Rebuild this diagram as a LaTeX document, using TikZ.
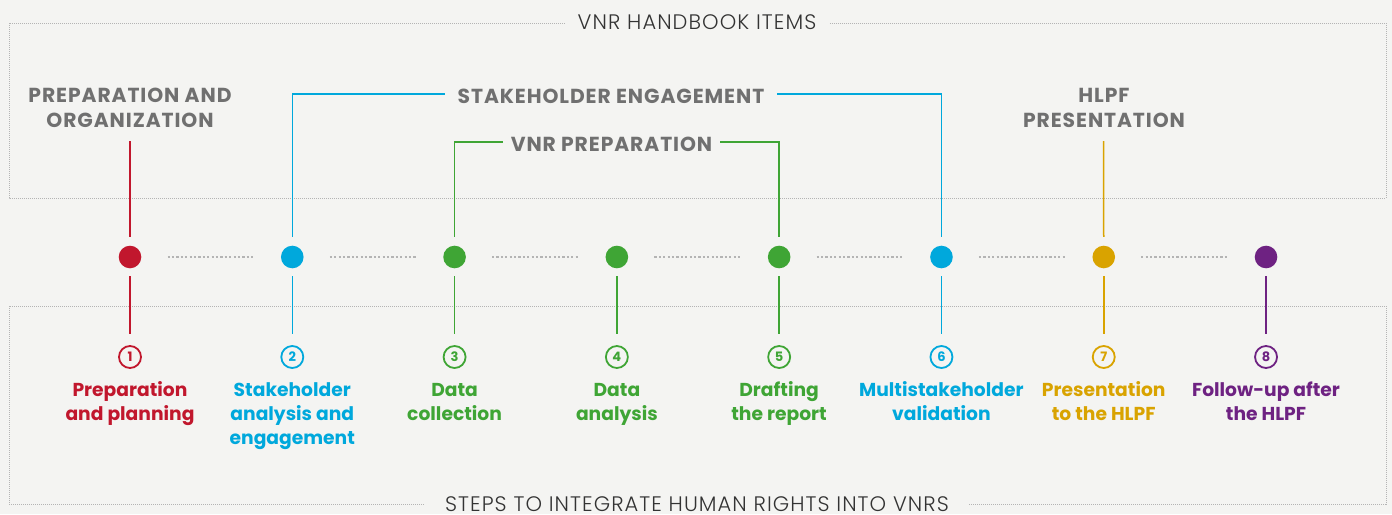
\documentclass[tikz,border=0pt]{standalone}
\usepackage{fontspec}
\setmainfont{Poppins}[BoldFont={Poppins Bold}]
\newfontfamily\lightfont{Poppins Light}[LetterSpace=5]
\newfontfamily\headfont{Poppins Bold}[LetterSpace=4.5]
\usetikzlibrary{calc}
\definecolor{cred}{HTML}{C1172D}
\definecolor{cblue}{HTML}{00A8DC}
\definecolor{cgreen}{HTML}{3FA535}
\definecolor{cyellow}{HTML}{D9A300}
\definecolor{cpurple}{HTML}{6E2282}
\definecolor{cgray}{HTML}{707070}
\definecolor{bgc}{HTML}{F4F4F2}
\definecolor{linegray}{HTML}{B4B4B4}
\definecolor{titlegray}{HTML}{333333}
\begin{document}
\begin{tikzpicture}[x=1pt,y=-1pt,
  boxline/.style={draw=linegray,line width=1pt,dash pattern=on 1pt off 1pt},
  dotline/.style={draw=linegray,line width=1.2pt,dash pattern=on 2.2pt off 2.2pt,shorten <=26pt,shorten >=26pt},
  dotnode/.style={circle,fill=#1,minimum size=22.6pt,inner sep=0pt},
  numnode/.style={circle,draw=#1,line width=1.8pt,minimum size=22pt,inner sep=0pt,text=#1,font=\bfseries\fontsize{13}{13}\selectfont},
  conn/.style={draw=#1,line width=1.5pt},
  lbl/.style={text=#1,align=center,anchor=base,inner sep=0pt,font=\bfseries\fontsize{18.7}{24}\selectfont},
  head/.style={text=cgray,align=center,anchor=base,font=\headfont\fontsize{20.3}{24.5}\selectfont},
  toptitle/.style={text=titlegray,fill=bgc,anchor=base,font=\lightfont\fontsize{21}{24}\selectfont}
]
\fill[bgc] (0,0) rectangle (1392,514);
\useasboundingbox (0,0) rectangle (1392,514);
% boxes
\draw[boxline] (9,23) rectangle (1386,198);
\draw[boxline] (9,306) rectangle (1386,504);
\node[toptitle,inner xsep=13pt] (topt) at (697,29.5) {VNR HANDBOOK ITEMS};
\node[toptitle,inner xsep=20pt] (bott) at (697,511) {STEPS TO INTEGRATE HUMAN RIGHTS INTO VNRS};
% dots, numbers, connectors
\foreach \i/\c in {1/cred,2/cblue,3/cgreen,4/cgreen,5/cgreen,6/cblue,7/cyellow,8/cpurple}{
  \node[dotnode=\c] (d\i) at ({130+162.29*(\i-1)},257) {};
  \node[numnode=\c] (n\i) at ({130+162.29*(\i-1)},357) {\i};
  \draw[conn=\c,shorten <=7.7pt,shorten >=11pt] (d\i) -- (n\i);
}
\foreach \i [evaluate=\i as \j using int(\i+1)] in {1,...,7}{
  \draw[dotline] (d\i) -- (d\j);
}
% step labels (base anchor = baseline of last line)
\node[lbl=cred]    (l1) at (130,420.7)    {Preparation\\and planning};
\node[lbl=cblue]   (l2) at (292.3,444.7)  {Stakeholder\\analysis and\\engagement};
\node[lbl=cgreen]  (l3) at (454.6,420.7)  {Data\\collection};
\node[lbl=cgreen]  (l4) at (616.9,420.7)  {Data\\analysis};
\node[lbl=cgreen]  (l5) at (779.1,420.7)  {Drafting\\the report};
\node[lbl=cblue]   (l6) at (941.4,420.7)  {Multistakeholder\\validation};
\node[lbl=cyellow] (l7) at (1103.7,420.7) {Presentation\\to the HLPF};
\node[lbl=cpurple] (l8) at (1266,420.7)   {Follow-up after\\the HLPF};
% handbook headings
\node[head] (h1) at (130,127.3) {PREPARATION AND\\ORGANIZATION};
\node[head,inner xsep=12pt] (h2) at (611,103.3) {STAKEHOLDER ENGAGEMENT};
\node[head,inner xsep=8pt] (h3) at (611.5,151) {VNR PREPARATION};
\node[head] (h4) at (1104,127.3) {HLPF\\PRESENTATION};
\coordinate (t1) at (130,141);
\coordinate (t7) at (1103.7,141);
\draw[conn=cred,shorten <=8.6pt] (d1.north) -- (t1);
\draw[conn=cyellow,shorten <=8.6pt] (d7.north) -- (t7);
\draw[conn=cblue,shorten <=8.6pt] (d2.north) |- ([yshift=2pt]h2.west);
\draw[conn=cblue,shorten <=8.6pt] (d6.north) |- ([yshift=2pt]h2.east);
\draw[conn=cgreen,shorten <=8.6pt] (d3.north) |- ([yshift=2pt]h3.west);
\draw[conn=cgreen,shorten <=8.6pt] (d5.north) |- ([yshift=2pt]h3.east);
\end{tikzpicture}
\end{document}
